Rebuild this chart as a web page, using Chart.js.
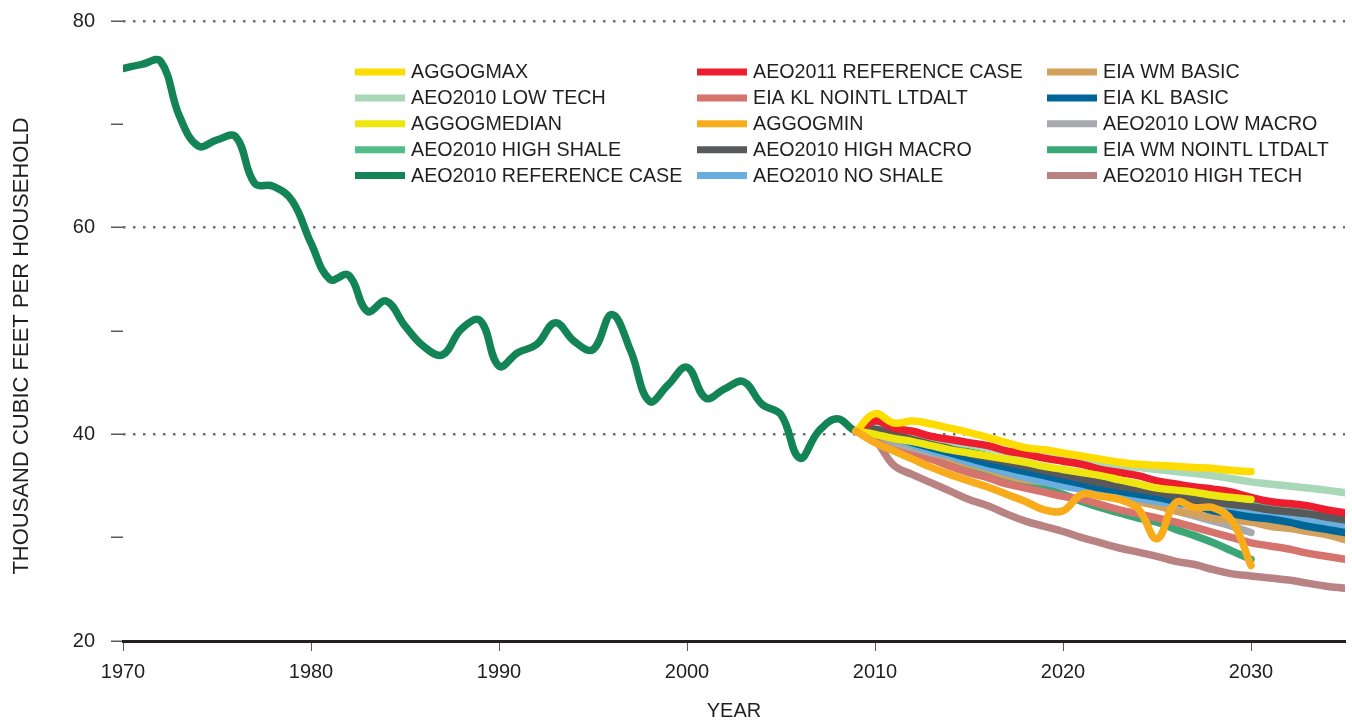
<!DOCTYPE html>
<html>
<head>
<meta charset="utf-8">
<title>Natural gas per household</title>
<script src="https://cdn.jsdelivr.net/npm/chart.js@4.4.1/dist/chart.umd.min.js"></script>
<style>
  html, body { margin: 0; padding: 0; background: #fff; }
  #wrap { width: 1352px; height: 723px; }
</style>
</head>
<body>
<div id="wrap"><canvas id="chart" width="1352" height="723"></canvas></div>
<script>
// Years
function yearRange(a, b) {
    const out = [];
    for (let y = a; y <= b; y++) out.push(y);
    return out;
}
const historyYears = yearRange(1970, 2009);
const forecastYears = yearRange(2009, 2035);
const shortYears = yearRange(2009, 2030);
const refForecastYears = yearRange(2010, 2035);

// Values, thousand cubic feet per household
const refHistory = [75.4, 75.8, 76.1, 70.8, 67.9, 68.5, 68.8, 64.3, 64.0, 62.6,
                    58.5, 55.0, 55.4, 51.9, 52.9, 50.5, 48.5, 47.7, 50.2, 51.0,
                    46.6, 47.9, 48.7, 50.8, 49.0, 48.2, 51.6, 48.1, 43.2, 44.8,
                    46.5, 43.5, 44.4, 45.1, 42.9, 41.9, 37.7, 40.3, 41.5, 40.3];
const refForecast = [40.5, 40.0, 39.6, 39.1, 38.7, 38.3, 37.9, 37.5, 37.1, 36.7, 36.3, 35.9, 35.5,
                     35.2, 34.8, 34.5, 34.2, 33.9, 33.6, 33.3, 33.1, 32.8, 32.6, 32.4, 32.1, 31.9];

const aggogMax = [40.3, 42.0, 41.1, 41.3, 41.0, 40.6, 40.2, 39.7, 39.2, 38.7, 38.5,
                  38.2, 37.9, 37.6, 37.3, 37.1, 37.0, 36.9, 36.8, 36.7, 36.5, 36.4];
const aeo2010LowTech = [40.3, 40.9, 40.4, 40.0, 39.6, 39.3, 39.0, 38.7, 38.3, 38.0, 37.8, 37.5, 37.3, 37.1,
                        36.9, 36.8, 36.6, 36.4, 36.2, 36.0, 35.7, 35.4, 35.2, 35.0, 34.8, 34.6, 34.35];
const aggogMedian = [40.3, 40.0, 39.6, 39.3, 38.9, 38.5, 38.2, 37.9, 37.6, 37.3, 36.9,
                     36.6, 36.3, 36.0, 35.6, 35.2, 34.8, 34.6, 34.4, 34.1, 33.9, 33.7];
const aeo2010HighShale = [40.3, 40.6, 40.1, 39.6, 39.1, 38.7, 38.2, 37.8, 37.4, 37.0, 36.6, 36.2, 35.8, 35.5,
                          35.2, 34.9, 34.6, 34.3, 34.0, 33.8, 33.6, 33.4, 33.1, 32.9, 32.7, 32.5, 32.2];
const aeo2011Ref = [40.3, 41.3, 40.6, 40.3, 39.8, 39.5, 39.2, 38.9, 38.4, 38.1, 37.7, 37.4, 37.1, 36.6,
                    36.3, 36.0, 35.5, 35.2, 34.9, 34.7, 34.4, 33.9, 33.5, 33.3, 33.1, 32.7, 32.4];
const eiaKlNointl = [40.3, 39.5, 38.7, 38.1, 37.6, 36.9, 36.3, 35.8, 35.2, 34.8, 34.4, 34.0, 33.7, 33.2,
                     32.7, 32.3, 31.9, 31.5, 31.0, 30.5, 30.0, 29.5, 29.2, 28.9, 28.5, 28.2, 27.9];
const aggogMin = [40.3, 39.2, 38.4, 37.6, 36.8, 36.1, 35.5, 34.9, 34.2, 33.5, 32.7,
                  32.6, 34.2, 34.0, 33.7, 32.8, 29.9, 33.4, 32.9, 32.9, 31.6, 27.3];
const aeo2010HighMacro = [40.3, 40.5, 40.0, 39.5, 39.0, 38.6, 38.1, 37.7, 37.3, 36.9, 36.5, 36.1, 35.7, 35.3,
                          35.0, 34.7, 34.4, 34.0, 33.7, 33.5, 33.2, 33.0, 32.7, 32.5, 32.3, 32.0, 31.7];
const aeo2010NoShale = [40.3, 40.3, 39.6, 39.0, 38.4, 37.9, 37.3, 36.8, 36.3, 35.8, 35.4, 35.0, 34.7, 34.4,
                        34.1, 33.8, 33.5, 33.3, 33.1, 32.8, 32.6, 32.4, 32.1, 31.9, 31.6, 31.3, 31.0];
const eiaWmBasic = [40.3, 40.3, 39.6, 39.0, 38.4, 37.7, 37.1, 36.6, 36.0, 35.6, 35.4, 35.2, 34.8, 34.5,
                    34.0, 33.5, 33.1, 32.6, 32.3, 31.9, 31.7, 31.5, 31.1, 30.9, 30.6, 30.3, 29.8];
const eiaKlBasic = [40.3, 40.4, 39.8, 39.2, 38.7, 38.2, 37.7, 37.2, 36.8, 36.4, 36.0, 35.6, 35.2, 34.8,
                    34.5, 34.2, 33.9, 33.5, 33.1, 32.6, 32.3, 32.0, 31.8, 31.5, 31.1, 30.8, 30.5];
const aeo2010LowMacro = [40.3, 40.1, 39.2, 38.7, 38.2, 37.8, 37.4, 37.0, 36.6, 36.2, 35.9,
                         35.6, 35.2, 34.6, 34.1, 33.6, 33.1, 32.6, 32.1, 31.6, 31.1, 30.5];
const eiaWmNointl = [40.3, 41.3, 39.6, 38.9, 38.2, 37.6, 37.0, 36.4, 35.9, 35.3, 34.8,
                     34.2, 33.5, 32.9, 32.4, 31.9, 31.5, 30.8, 30.2, 29.5, 28.7, 27.9];
const aeo2010HighTech = [40.3, 39.4, 37.0, 36.1, 35.3, 34.5, 33.7, 33.1, 32.3, 31.6, 31.1, 30.6, 30.0, 29.5,
                         29.0, 28.6, 28.2, 27.7, 27.4, 26.9, 26.5, 26.3, 26.1, 25.9, 25.6, 25.3, 25.1];

const yTicks = [20, 40, 60, 80];
const xTicks = [1970, 1980, 1990, 2000, 2010, 2020, 2030];
const yTitle = 'THOUSAND CUBIC FEET PER HOUSEHOLD';

const textColor = '#231F20';
const fontFamily = '"Liberation Sans", Arial, sans-serif';

function pts(years, values) {
    return values.map((v, i) => ({ x: years[i], y: v }));
}

// Legend order is column by column; z is drawing order (1 = on top)
const series = [
    { label: 'AGGOGMAX', color: '#FFDC00', data: pts(shortYears, aggogMax), z: 2 },
    { label: 'AEO2010 LOW TECH', color: '#A9D8B8', data: pts(forecastYears, aeo2010LowTech), z: 6 },
    { label: 'AGGOGMEDIAN', color: '#EDE70F', data: pts(shortYears, aggogMedian), z: 3 },
    { label: 'AEO2010 HIGH SHALE', color: '#53BD87', data: pts(forecastYears, aeo2010HighShale), z: 13 },
    { label: 'AEO2010 REFERENCE CASE', color: '#138455',
      data: pts(historyYears, refHistory).concat(pts(refForecastYears, refForecast)), z: 15 },
    { label: 'AEO2011 REFERENCE CASE', color: '#ED1C2E', data: pts(forecastYears, aeo2011Ref), z: 4 },
    { label: 'EIA KL NOINTL LTDALT', color: '#D6736C', data: pts(forecastYears, eiaKlNointl), z: 11 },
    { label: 'AGGOGMIN', color: '#F9AC1B', data: pts(shortYears, aggogMin), z: 1 },
    { label: 'AEO2010 HIGH MACRO', color: '#58595B', data: pts(forecastYears, aeo2010HighMacro), z: 5 },
    { label: 'AEO2010 NO SHALE', color: '#6AAEDF', data: pts(forecastYears, aeo2010NoShale), z: 8 },
    { label: 'EIA WM BASIC', color: '#D3A15B', data: pts(forecastYears, eiaWmBasic), z: 9 },
    { label: 'EIA KL BASIC', color: '#006699', data: pts(forecastYears, eiaKlBasic), z: 7 },
    { label: 'AEO2010 LOW MACRO', color: '#A7A9AC', data: pts(shortYears, aeo2010LowMacro), z: 10 },
    { label: 'EIA WM NOINTL LTDALT', color: '#3BA676', data: pts(shortYears, eiaWmNointl), z: 12 },
    { label: 'AEO2010 HIGH TECH', color: '#B98283', data: pts(forecastYears, aeo2010HighTech), z: 14 }
];

// Legend in three columns of five, drawn over the plot
const legendCols = [355, 697, 1047];
const legendTop = 72;
const legendGap = 25.9;

const columnLegend = {
    id: 'columnLegend',
    afterDraw(chart) {
        const ctx = chart.ctx;
        ctx.save();
        ctx.font = '19.7px ' + fontFamily;
        ctx.textBaseline = 'middle';
        ctx.textAlign = 'left';
        chart.data.datasets.forEach((ds, i) => {
            const x = legendCols[Math.floor(i / 5)];
            const y = legendTop + (i % 5) * legendGap;
            ctx.strokeStyle = ds.borderColor;
            ctx.lineWidth = 7;
            ctx.lineCap = 'butt';
            ctx.beginPath();
            ctx.moveTo(x, y);
            ctx.lineTo(x + 50, y);
            ctx.stroke();
            ctx.fillStyle = textColor;
            ctx.fillText(ds.label, x + 56, y + 1);
        });

        // y axis title sits a bit below the middle of the plot in the original
        ctx.font = '22px ' + fontFamily;
        ctx.textAlign = 'center';
        ctx.translate(22, 346);
        ctx.rotate(-Math.PI / 2);
        ctx.fillText(yTitle, 0, 0);
        ctx.restore();
    }
};

new Chart(document.getElementById('chart'), {
    type: 'line',
    data: {
        datasets: series.map(s => ({
            label: s.label,
            data: s.data,
            borderColor: s.color,
            backgroundColor: s.color,
            borderWidth: 7.5,
            borderCapStyle: 'round',
            borderJoinStyle: 'round',
            pointRadius: 0,
            tension: 0.4,
            fill: false,
            order: s.z
        }))
    },
    options: {
        responsive: false,
        devicePixelRatio: 1,
        animation: false,
        events: [],
        layout: { padding: { top: 21, right: 7, left: 0, bottom: 0 } },
        plugins: {
            legend: { display: false },
            tooltip: { enabled: false }
        },
        scales: {
            x: {
                type: 'linear',
                min: 1970,
                max: 2035,
                afterFit(scale) { scale.height = 82; scale.paddingLeft = 0; scale.paddingRight = 0; },
                afterBuildTicks(scale) { scale.ticks = xTicks.map(v => ({ value: v })); },
                ticks: {
                    color: textColor,
                    font: { family: fontFamily, size: 20 },
                    padding: 9,
                    maxRotation: 0,
                    callback: v => String(v)
                },
                grid: {
                    drawOnChartArea: false,
                    drawTicks: true,
                    tickLength: 10,
                    tickColor: '#58595B',
                    tickWidth: 1
                },
                border: { display: true, color: textColor, width: 3 },
                title: {
                    display: true,
                    text: 'YEAR',
                    color: textColor,
                    font: { family: fontFamily, size: 20 },
                    padding: { top: 0, bottom: 0 }
                }
            },
            y: {
                min: 20,
                max: 80,
                afterFit(scale) { scale.width = 123; scale.paddingTop = 0; scale.paddingBottom = 0; },
                ticks: {
                    stepSize: 10,
                    color: textColor,
                    font: { family: fontFamily, size: 20 },
                    padding: 16,
                    callback: v => yTicks.includes(v) ? String(v) : ''
                },
                grid: {
                    color: c => (c.tick && c.tick.value > 20 && yTicks.includes(c.tick.value)) ? '#6D6E71' : 'rgba(0,0,0,0)',
                    lineWidth: 2.5,
                    drawTicks: true,
                    tickLength: 12,
                    tickColor: '#58595B',
                    tickWidth: 1.5
                },
                border: { display: false, dash: [2.5, 7.5] },
                title: { display: false }
            }
        }
    },
    plugins: [columnLegend]
});
</script>
</body>
</html>
